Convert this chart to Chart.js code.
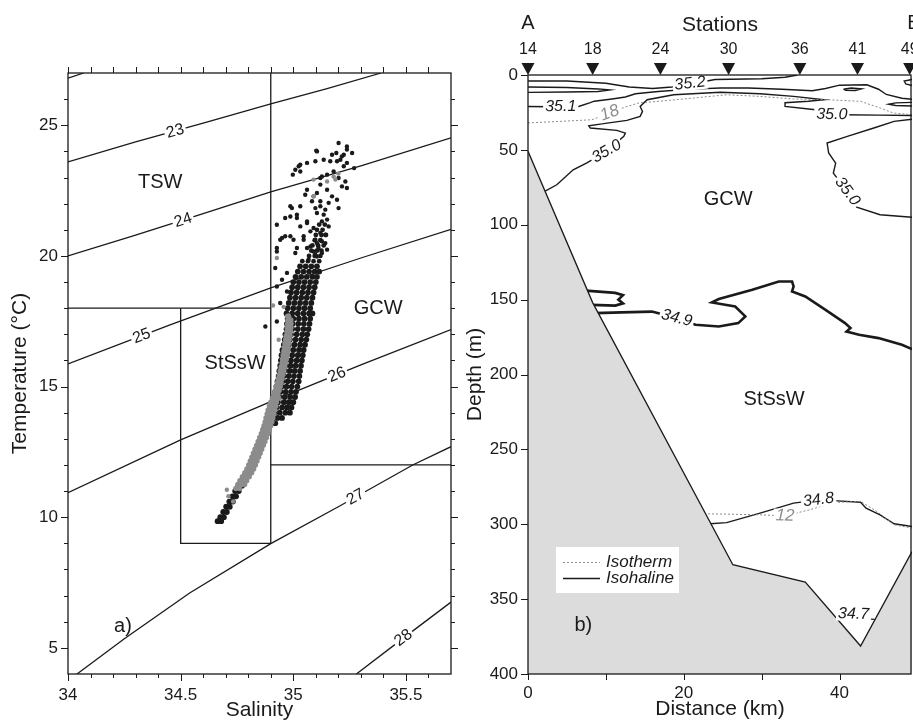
<!DOCTYPE html>
<html>
<head>
<meta charset="utf-8">
<script src="https://cdn.jsdelivr.net/npm/chart.js@4.4.1/dist/chart.umd.min.js"></script>
<style>
  body { margin: 0; background: #fff; width: 913px; height: 723px; overflow: hidden; position: relative; }
  #tsChart { position: absolute; left: 0; top: 0; }
  #secChart { position: absolute; left: 460px; top: 0; }
</style>
</head>
<body>
<canvas id="tsChart" width="460" height="723"></canvas>
<canvas id="secChart" width="453" height="723"></canvas>
<script>
// ---------- a) T-S diagram ----------
const salTicks = [34.0, 34.1, 34.2, 34.3, 34.4, 34.5, 34.6, 34.7, 34.8, 34.9, 35.0, 35.1, 35.2, 35.3, 35.4, 35.5, 35.6];
const salLabels = [34, 34.5, 35, 35.5];
const tempTicks = [5, 6, 7, 8, 9, 10, 11, 12, 13, 14, 15, 16, 17, 18, 19, 20, 21, 22, 23, 24, 25, 26];
const tempLabels = [5, 10, 15, 20, 25];

// sigma-t isopycnals [salinity, temperature]
const sig22 = [[34.0, 26.8], [34.07, 27.0]];
const sig23 = [[34.0, 23.6], [34.3, 24.36], [34.6, 25.08], [34.9, 25.82], [35.15, 26.4], [35.39, 27.0]];
const sig24 = [[34.0, 20.0], [34.3, 20.8], [34.6, 21.62], [34.9, 22.45], [35.3, 23.45], [35.7, 24.52]];
const sig25 = [[34.0, 15.87], [34.45, 17.35], [34.9, 18.78], [35.3, 19.92], [35.7, 21.02]];
const sig26 = [[34.0, 10.94], [34.5, 12.96], [34.9, 14.42], [35.3, 15.83], [35.7, 17.18]];
const sig27 = [[34.04, 4.0], [34.25, 5.35], [34.54, 7.1], [34.9, 8.99], [35.2, 10.4], [35.53, 12.0], [35.7, 12.7]];
const sig28 = [[35.28, 4.0], [35.5, 5.45], [35.7, 6.75]];

const sigTagText = ['23', '24', '25', '26', '27', '28'];
const sigTagAt = [[34.476, 24.77], [34.511, 21.36], [34.327, 16.93], [35.194, 15.45], [35.276, 10.77], [35.489, 5.38]];
const sigTagLine = [sig23, sig24, sig25, sig26, sig27, sig28];

// water mass limits
const edgeVertical = [[34.9, 27], [34.9, 9]];
const edgeTSW = [[34.0, 18], [34.9, 18]];
const edgeStSsW = [[34.5, 18], [34.5, 9], [34.9, 9]];
const edgeGCW = [[34.9, 12], [35.7, 12]];

const massNames = ['TSW', 'GCW', 'StSsW'];
const massAt = [[34.409, 22.8], [35.377, 17.99], [34.742, 15.87]];

// CTD samples, black: scattered upper part
const blackCloud = [
  [35.201, 24.32], [35.238, 24.19], [35.102, 24.03], [35.191, 23.94], [35.224, 23.87], [35.261, 23.94],
  [35.135, 23.68], [35.164, 23.62], [35.209, 23.68], [35.238, 23.56], [35.061, 23.56], [35.098, 23.62],
  [35.024, 23.43], [35.009, 23.30], [34.998, 23.11], [35.031, 23.23], [35.270, 23.36], [35.179, 23.23],
  [35.150, 23.11], [35.201, 22.98], [35.231, 22.85], [35.120, 22.98], [35.216, 22.66], [35.238, 22.60],
  [35.120, 22.73], [35.150, 22.53], [35.061, 22.53], [35.105, 22.41], [35.172, 22.28], [35.194, 22.15],
  [35.201, 21.83], [35.157, 22.03], [35.083, 22.09], [35.031, 21.90], [34.994, 21.83], [35.016, 21.58],
  [34.987, 21.51], [34.964, 21.45], [35.120, 21.90], [35.105, 21.64], [35.135, 21.58], [35.150, 21.39],
  [35.157, 21.13], [34.927, 21.19], [35.061, 21.26], [35.031, 21.13], [35.090, 21.07], [35.120, 20.88],
  [35.142, 20.81], [34.964, 20.75], [34.942, 20.62], [35.001, 20.62], [35.046, 20.75], [35.098, 20.62],
  [35.127, 20.56], [35.076, 20.36], [35.112, 20.30], [34.927, 20.17], [35.009, 20.11], [35.098, 20.05],
  [35.068, 19.86], [34.920, 19.54], [34.972, 19.35], [34.950, 19.09], [34.927, 18.83], [34.972, 18.64],
  [34.942, 18.20], [34.876, 17.30], [34.927, 17.49],
  [35.105, 24.00], [35.031, 23.49], [35.172, 23.87], [35.216, 23.81], [35.238, 24.07], [35.194, 23.62],
  [35.224, 23.43], [35.127, 23.04], [35.090, 22.28], [35.053, 22.34], [35.120, 22.09], [35.142, 21.77],
  [35.098, 21.83], [34.987, 21.90], [35.016, 21.45], [35.061, 21.32], [35.127, 21.32], [35.076, 20.94],
  [34.950, 20.69], [34.987, 20.75], [35.046, 20.62], [35.105, 20.49], [35.142, 20.49], [34.927, 20.30],
  [35.016, 20.30], [35.061, 20.30], [35.090, 20.17], [35.127, 20.11], [35.150, 20.24], [35.105, 19.98]
];
// black: denser column above the band, rows of [temperature, salinities]
const blackCore = [
  [21.2, [35.115, 35.140]],
  [21.0, [35.105, 35.130]],
  [20.8, [35.100, 35.125, 35.145]],
  [20.6, [35.095, 35.120]],
  [20.4, [35.085, 35.110, 35.135]],
  [20.2, [35.080, 35.105, 35.125]],
  [20.0, [35.070, 35.095, 35.120]],
  [19.8, [35.040, 35.065, 35.090, 35.115]]
];
// black: dense band
const blackBand = [
  [19.6, [35.030, 35.055, 35.080, 35.105]],
  [19.4, [35.020, 35.045, 35.070, 35.095, 35.115]],
  [19.2, [35.010, 35.035, 35.060, 35.085, 35.105]],
  [19.0, [35.000, 35.025, 35.050, 35.075, 35.100]],
  [18.8, [34.995, 35.020, 35.045, 35.070, 35.095]],
  [18.6, [34.990, 35.015, 35.040, 35.065, 35.090]],
  [18.4, [34.985, 35.010, 35.035, 35.060, 35.085]],
  [18.2, [34.980, 35.005, 35.030, 35.055, 35.080]],
  [18.0, [34.975, 35.000, 35.025, 35.050, 35.075]],
  [17.8, [34.970, 34.995, 35.020, 35.045, 35.070, 35.085]],
  [17.6, [34.975, 35.000, 35.025, 35.050, 35.075]],
  [17.4, [34.972, 34.997, 35.022, 35.047, 35.072]],
  [17.2, [34.970, 34.995, 35.020, 35.045, 35.068]],
  [17.0, [34.965, 34.990, 35.015, 35.040, 35.062]],
  [16.8, [34.962, 34.985, 35.010, 35.035, 35.058]],
  [16.6, [34.958, 34.980, 35.005, 35.030, 35.052]],
  [16.4, [34.952, 34.975, 35.000, 35.025, 35.046]],
  [16.2, [34.948, 34.970, 34.995, 35.020, 35.042]],
  [16.0, [34.945, 34.968, 34.990, 35.015, 35.038]],
  [15.8, [34.942, 34.965, 34.988, 35.010, 35.034]],
  [15.6, [34.938, 34.960, 34.984, 35.006, 35.030]],
  [15.4, [34.935, 34.957, 34.980, 35.003, 35.027]],
  [15.2, [34.930, 34.952, 34.975, 34.998, 35.024]],
  [15.0, [34.925, 34.948, 34.970, 34.993, 35.018]],
  [14.8, [34.920, 34.943, 34.966, 34.990, 35.012]],
  [14.6, [34.915, 34.938, 34.962, 34.986, 35.008]],
  [14.4, [34.910, 34.932, 34.958, 34.980, 35.000]],
  [14.2, [34.905, 34.925, 34.950, 34.972, 34.992]],
  [14.0, [34.898, 34.918, 34.940, 34.965, 34.985]],
  [13.8, [34.892, 34.910, 34.930, 34.950]],
  [13.6, [34.885, 34.902, 34.920]],
  [13.4, [34.871, 34.887]],
  [13.2, [34.864, 34.880]],
  [13.0, [34.856, 34.872]],
  [12.8, [34.847, 34.863]],
  [12.6, [34.837, 34.853]],
  [12.4, [34.828, 34.844]],
  [12.2, [34.819, 34.835]],
  [12.0, [34.809, 34.825]],
  [11.8, [34.798, 34.814]],
  [11.6, [34.785, 34.801]],
  [11.4, [34.770, 34.786]],
  [11.2, [34.756, 34.772]],
  [11.0, [34.742, 34.758]],
  [10.8, [34.730, 34.746]],
  [10.6, [34.716, 34.732]],
  [10.4, [34.702, 34.718]],
  [10.2, [34.689, 34.705]],
  [10.0, [34.676, 34.692]],
  [9.85, [34.664, 34.680]]
];
// CTD samples, grey
const grayCloud = [
  [35.179, 23.04], [35.187, 22.92], [35.150, 22.85], [35.090, 22.92], [35.090, 22.28], [34.927, 19.92],
  [34.910, 18.10], [34.935, 16.79], [34.972, 17.69], [34.957, 18.05], [35.200, 23.15],
  [34.705, 11.05], [34.712, 10.80], [34.733, 10.60]
];
const grayBand = [
  [17.7, [34.978]],
  [17.55, [34.976, 34.989]],
  [17.4, [34.975, 34.990]],
  [17.25, [34.973, 34.989]],
  [17.1, [34.972, 34.988]],
  [16.95, [34.969, 34.985]],
  [16.8, [34.966, 34.982]],
  [16.65, [34.963, 34.980]],
  [16.5, [34.960, 34.977]],
  [16.35, [34.958, 34.975]],
  [16.2, [34.955, 34.972]],
  [16.05, [34.952, 34.969]],
  [15.9, [34.950, 34.966]],
  [15.75, [34.946, 34.962]],
  [15.6, [34.942, 34.958]],
  [15.45, [34.938, 34.954]],
  [15.3, [34.933, 34.950]],
  [15.15, [34.929, 34.946]],
  [15.0, [34.925, 34.942]],
  [14.85, [34.920, 34.937]],
  [14.7, [34.915, 34.932]],
  [14.55, [34.907, 34.922, 34.935]],
  [14.4, [34.900, 34.912, 34.925]],
  [14.25, [34.894, 34.908, 34.922]],
  [14.1, [34.888, 34.903, 34.918]],
  [13.95, [34.884, 34.899, 34.914]],
  [13.8, [34.879, 34.894, 34.909]],
  [13.65, [34.875, 34.890, 34.905]],
  [13.5, [34.870, 34.885, 34.900]],
  [13.35, [34.864, 34.879, 34.894]],
  [13.2, [34.858, 34.873, 34.888]],
  [13.05, [34.851, 34.866, 34.881]],
  [12.9, [34.844, 34.859, 34.874]],
  [12.75, [34.837, 34.852, 34.867]],
  [12.6, [34.830, 34.845, 34.860]],
  [12.45, [34.823, 34.838, 34.853]],
  [12.3, [34.816, 34.831, 34.846]],
  [12.15, [34.809, 34.824, 34.839]],
  [12.0, [34.802, 34.817, 34.832]],
  [11.85, [34.794, 34.809, 34.824]],
  [11.7, [34.785, 34.800, 34.815]],
  [11.55, [34.774, 34.789, 34.804]],
  [11.4, [34.763, 34.778, 34.793]],
  [11.25, [34.754, 34.770, 34.784]],
  [11.1, [34.745, 34.762]]
];

// ---------- b) section ----------
const distTicks = [0, 10, 20, 30, 40];
const distLabels = [0, 20, 40];
const depthTicks = [0, 50, 100, 150, 200, 250, 300, 350, 400];
const stationIds = ['14', '18', '24', '30', '36', '41', '49'];
const stationKm = [0, 8.3, 17.0, 25.75, 34.9, 42.3, 49.0];

// [distance km, depth m]
const bottom = [[0, 51], [8.3, 152], [26.3, 327], [35.6, 338.6], [42.7, 381.3], [49.3, 318.3]];
const sal352 = [[0, 4], [5, 4], [10, 5.5], [13, 8], [16, 9], [18.5, 8], [19.5, 6.5], [22, 5], [24, 3], [30, 2.5], [33, 1.5], [34.6, 0]];
const sal352lens = [[0, 8], [5, 8.3], [9, 9.3], [10.5, 10], [9, 11], [5, 11.4], [0, 11.6]];
const sal351 = [[0, 21], [3, 21.2], [6.5, 21], [8, 18.5], [8.5, 17.5], [10.8, 16], [12.5, 14.7], [13.8, 12.5], [16.7, 11], [21, 9.4], [24.7, 8.7], [28.3, 8.7], [32.6, 9.5], [36.5, 10.5], [38.2, 9], [40, 6.8], [43.5, 6.5], [45, 9.5], [46, 13], [48, 15.5], [49.3, 16.2]];
const sal351lens = [[40.5, 9.5], [41.5, 8.7], [42.8, 9.2], [42, 10.3], [40.8, 10.2], [40.5, 9.5]];
const sal351edge = [[49.3, 18.3], [47.2, 18.6], [46.3, 19.5], [47.2, 20.4], [49.3, 20.7]];
const sal352edge = [[49.3, 3], [48.3, 4], [48.5, 6], [49.3, 7]];
const sal350a = [[2.2, 77.5], [3.7, 73.3], [5.8, 63.3], [7.5, 58.8], [10.1, 51], [12.3, 41], [12.5, 38.8], [11.4, 37], [8, 35.4], [7.8, 33.9], [9.7, 32.5], [12.7, 30.3], [14.4, 27.6], [14.7, 24.3], [14.4, 21], [15.3, 16.5], [18.7, 13.2], [24.7, 11.5], [29.8, 12.5], [34.1, 14.3], [38, 16.5], [36, 17.5], [33, 18.5], [33, 21], [36.9, 23.2], [37.8, 26.3], [40.3, 26.5], [45, 26.8], [49.3, 27]];
const sal350b = [[49.3, 29.5], [47, 31], [44.4, 35.4], [41, 41], [38.4, 45.4], [38.6, 52], [39.5, 58.8], [39.2, 65.5], [41, 77.8], [42.2, 88.2], [45.2, 93.3], [49.3, 95]];
const sal349 = [[8.6, 159], [12, 158.5], [15.9, 158], [19.1, 162.3], [21.5, 166.8], [24.5, 167.9], [27, 165.7], [27.9, 161.2], [26.6, 154.6], [23.6, 151.9], [24.5, 149.6], [28.8, 143.4], [32.2, 137.9], [33.9, 137.9], [34.1, 141.2], [33.9, 144.5], [35.6, 147.9], [38.2, 156.8], [40.7, 165.7], [41.4, 169], [40.9, 171.3], [42.5, 173.5], [45, 175.7], [48, 180.2], [49.3, 183]];
const sal349lobe = [[7.4, 144], [11.2, 145.5], [12.2, 147], [11.6, 150], [12.2, 152.5], [11.2, 154], [8.2, 153.5]];
const sal348 = [[23.4, 299.7], [25.5, 298.9], [29.8, 292.6], [34.1, 285.9], [37.3, 283.7], [39.7, 284.4], [42.7, 285.3], [43.4, 289.3], [45.2, 293.7], [47, 299.7], [49.3, 301.5]];
const sal347 = [[39.2, 362], [41.8, 362.5], [44.5, 363.5]];
const temp18 = [[0, 32], [4, 31], [8.2, 29.9], [10.5, 25.4], [12.5, 21.4], [14.2, 18.7], [16.7, 17.6], [21.2, 15.4], [25.5, 13.2], [29.8, 14.3], [34.1, 16], [38.4, 16.5], [42.7, 17.6], [45.2, 22], [46.9, 25.4], [49.3, 26.5]];
const temp12 = [[22.6, 293], [25, 293.2], [29.8, 293.7], [33, 294.4], [36.2, 290.3], [39.2, 285.5], [42.7, 284.8], [44.8, 291.5], [47, 300.4], [49.3, 302.6]];

const salTagText = ['35.2', '35.1', '35.0', '35.0', '35.0', '34.9', '34.8', '34.7'];
const salTagAt = [[20.8, 5.7], [4.2, 21.1], [10.1, 51], [39.0, 26.4], [41.0, 77.8], [19.1, 162.3], [37.3, 283.7], [41.8, 360]];
const salTagLine = [sal352, sal351, sal350a, sal350a, sal350b, sal349, sal348, sal347];
const tempTagText = ['18', '12'];
const tempTagAt = [[10.5, 25.4], [33.0, 294.4]];
const tempTagLine = [temp18, temp12];

const areaNames = ['GCW', 'StSsW'];
const areaAt = [[25.7, 83.3], [31.6, 216.9]];

// ---------- drawing ----------
const ink = '#1a1a1a';
const grey = '#8c8c8c';
const face = "'Liberation Sans', Arial, sans-serif";
Chart.defaults.font.family = face;
Chart.defaults.color = ink;
Chart.defaults.animation = false;

const pts = arr => arr.map(p => ({ x: p[0], y: p[1] }));
const rows = r => r.flatMap(([t, ss]) => ss.map(s => [s, t]));

function curve(arr, extra) {
  return Object.assign({
    type: 'line', data: pts(arr), borderColor: ink, borderWidth: 1.3,
    pointRadius: 0, fill: false, tension: 0, order: 3
  }, extra || {});
}

// angle of the polyline segment nearest to a label
function angleNear(line, xv, yv, sx, sy) {
  const px = sx.getPixelForValue(xv), py = sy.getPixelForValue(yv);
  let best = Infinity, ang = 0;
  for (let i = 0; i < line.length - 1; i++) {
    const x1 = sx.getPixelForValue(line[i][0]), y1 = sy.getPixelForValue(line[i][1]);
    const x2 = sx.getPixelForValue(line[i + 1][0]), y2 = sy.getPixelForValue(line[i + 1][1]);
    const dx = x2 - x1, dy = y2 - y1;
    let t = ((px - x1) * dx + (py - y1) * dy) / (dx * dx + dy * dy || 1);
    t = Math.max(0, Math.min(1, t));
    const d = Math.hypot(px - (x1 + t * dx), py - (y1 + t * dy));
    if (d < best) { best = d; ang = Math.atan2(dy, dx); }
  }
  if (ang > Math.PI / 2) ang -= Math.PI;
  if (ang < -Math.PI / 2) ang += Math.PI;
  return ang;
}

function tag(ctx, text, px, py, ang, font, color) {
  ctx.save();
  ctx.translate(px, py);
  ctx.rotate(ang);
  ctx.font = font;
  const w = ctx.measureText(text).width;
  ctx.fillStyle = '#fff';
  ctx.fillRect(-w / 2 - 2, -7, w + 4, 14);
  ctx.fillStyle = color;
  ctx.textAlign = 'center';
  ctx.textBaseline = 'middle';
  ctx.fillText(text, 0, 0);
  ctx.restore();
}

function plainText(ctx, text, px, py, font) {
  ctx.save();
  ctx.font = font;
  ctx.fillStyle = ink;
  ctx.textAlign = 'center';
  ctx.textBaseline = 'middle';
  ctx.fillText(text, px, py);
  ctx.restore();
}

const tsDecor = {
  id: 'tsDecor',
  afterDatasetsDraw(chart) {
    const { ctx, chartArea: a, scales: { x, y } } = chart;
    sigTagText.forEach((t, i) => {
      const [s, tv] = sigTagAt[i];
      tag(ctx, t, x.getPixelForValue(s), y.getPixelForValue(tv),
        angleNear(sigTagLine[i], s, tv, x, y), '16px ' + face, ink);
    });
    massNames.forEach((n, i) => {
      plainText(ctx, n, x.getPixelForValue(massAt[i][0]), y.getPixelForValue(massAt[i][1]), '20px ' + face);
    });
    plainText(ctx, 'a)', x.getPixelForValue(34.244), y.getPixelForValue(5.8), '20px ' + face);

    ctx.save();
    ctx.strokeStyle = ink;
    ctx.lineWidth = 1.3;
    ctx.strokeRect(a.left, a.top, a.right - a.left, a.bottom - a.top);
    ctx.beginPath();
    salTicks.forEach(v => {
      const px = Math.round(x.getPixelForValue(v)) + 0.5;
      const len = salLabels.includes(v) ? 7 : 4;
      ctx.moveTo(px, a.bottom); ctx.lineTo(px, a.bottom + len);
      ctx.moveTo(px, a.top); ctx.lineTo(px, a.top - 6);
    });
    tempTicks.forEach(v => {
      const py = Math.round(y.getPixelForValue(v)) + 0.5;
      const len = tempLabels.includes(v) ? 7 : 4;
      ctx.moveTo(a.left, py); ctx.lineTo(a.left - len, py);
      ctx.moveTo(a.right, py); ctx.lineTo(a.right + len, py);
    });
    ctx.lineWidth = 1;
    ctx.stroke();
    ctx.restore();
  }
};

new Chart(document.getElementById('tsChart'), {
  type: 'scatter',
  data: {
    datasets: [
      ...[sig22, sig23, sig24, sig25, sig26, sig27, sig28].map(l => curve(l)),
      ...[edgeVertical, edgeTSW, edgeStSsW, edgeGCW].map(l => curve(l)),
      { data: pts(blackCloud), pointRadius: 2.2, backgroundColor: ink, borderWidth: 0, order: 2 },
      { data: pts(rows(blackCore)), pointRadius: 2.4, backgroundColor: ink, borderWidth: 0, order: 2 },
      { data: pts(rows(blackBand)), pointRadius: 2.9, backgroundColor: ink, borderWidth: 0, order: 2 },
      { data: pts(grayCloud), pointRadius: 2.2, backgroundColor: grey, borderWidth: 0, order: 1 },
      { data: pts(rows(grayBand)), pointRadius: 2.7, backgroundColor: grey, borderWidth: 0, order: 1 }
    ]
  },
  options: {
    responsive: false,
    layout: { padding: { top: 73, right: 9, left: 0, bottom: 0 } },
    plugins: { legend: { display: false }, tooltip: { enabled: false } },
    scales: {
      x: {
        type: 'linear', min: 34, max: 35.7,
        afterBuildTicks: s => { s.ticks = salLabels.map(v => ({ value: v })); },
        afterFit: s => { s.height = 49; },
        grid: { display: false, drawTicks: false }, border: { display: false },
        ticks: { padding: 11, font: { size: 17 }, maxRotation: 0, autoSkip: false, callback: v => String(v) },
        title: { display: true, text: 'Salinity', font: { size: 21 }, padding: 0 }
      },
      y: {
        type: 'linear', min: 4, max: 27,
        afterBuildTicks: s => { s.ticks = tempLabels.map(v => ({ value: v })); },
        afterFit: s => { s.width = 68; },
        grid: { display: false, drawTicks: false }, border: { display: false },
        ticks: { padding: 10, font: { size: 17 }, autoSkip: false, callback: v => String(v) },
        title: { display: true, text: 'Temperature (°C)', font: { size: 21 }, padding: { top: 8, bottom: 0 } }
      }
    }
  },
  plugins: [tsDecor]
});

const secDecor = {
  id: 'secDecor',
  afterDatasetsDraw(chart) {
    const { ctx, chartArea: a, scales: { x, y } } = chart;
    salTagText.forEach((t, i) => {
      const [d, z] = salTagAt[i];
      tag(ctx, t, x.getPixelForValue(d), y.getPixelForValue(z),
        angleNear(salTagLine[i], d, z, x, y), 'italic 16px ' + face, ink);
    });
    tempTagText.forEach((t, i) => {
      const [d, z] = tempTagAt[i];
      tag(ctx, t, x.getPixelForValue(d), y.getPixelForValue(z),
        angleNear(tempTagLine[i], d, z, x, y), 'italic 17px ' + face, grey);
    });
    areaNames.forEach((n, i) => {
      plainText(ctx, n, x.getPixelForValue(areaAt[i][0]), y.getPixelForValue(areaAt[i][1]), '20px ' + face);
    });
    plainText(ctx, 'b)', x.getPixelForValue(7.1), y.getPixelForValue(367.9), '20px ' + face);

    // legend
    ctx.save();
    const lx = a.left + 28, ly = a.top + 472;
    ctx.fillStyle = '#fff';
    ctx.fillRect(lx, ly, 123, 46);
    ctx.beginPath();
    ctx.strokeStyle = grey; ctx.lineWidth = 1; ctx.setLineDash([2, 2]);
    ctx.moveTo(lx + 7, ly + 15.5); ctx.lineTo(lx + 44, ly + 15.5);
    ctx.stroke();
    ctx.setLineDash([]);
    ctx.beginPath();
    ctx.strokeStyle = ink; ctx.lineWidth = 1.4;
    ctx.moveTo(lx + 7, ly + 31.5); ctx.lineTo(lx + 44, ly + 31.5);
    ctx.stroke();
    ctx.font = 'italic 17px ' + face;
    ctx.fillStyle = ink;
    ctx.textBaseline = 'middle';
    ctx.fillText('Isotherm', lx + 50, ly + 15);
    ctx.fillText('Isohaline', lx + 50, ly + 31);
    ctx.restore();

    // frame and ticks
    ctx.save();
    ctx.strokeStyle = ink;
    ctx.lineWidth = 1.3;
    ctx.strokeRect(a.left, a.top, a.right - a.left - 1, a.bottom - a.top);
    ctx.beginPath();
    ctx.lineWidth = 1;
    distTicks.forEach(v => {
      const px = Math.round(x.getPixelForValue(v)) + 0.5;
      ctx.moveTo(px, a.bottom); ctx.lineTo(px, a.bottom + 6);
    });
    depthTicks.forEach(v => {
      const py = Math.round(y.getPixelForValue(v)) + 0.5;
      ctx.moveTo(a.left, py); ctx.lineTo(a.left - 7, py);
    });
    ctx.stroke();

    // stations
    ctx.fillStyle = ink;
    stationKm.forEach(k => {
      const px = x.getPixelForValue(k);
      ctx.beginPath();
      ctx.moveTo(px - 6.5, a.top - 12);
      ctx.lineTo(px + 6.5, a.top - 12);
      ctx.lineTo(px, a.top);
      ctx.closePath();
      ctx.fill();
    });
    ctx.restore();
    stationIds.forEach((s, i) => plainText(ctx, s, x.getPixelForValue(stationKm[i]), a.top - 25, '16px ' + face));
    plainText(ctx, 'A', x.getPixelForValue(0), 23, '20px ' + face);
    plainText(ctx, 'B', a.right + 2, 23, '20px ' + face);
    plainText(ctx, 'Stations', (a.left + a.right) / 2, 25, '21px ' + face);
  }
};

new Chart(document.getElementById('secChart'), {
  type: 'scatter',
  data: {
    datasets: [
      curve(bottom, { fill: { value: 400 }, backgroundColor: '#dcdcdc', borderWidth: 1.3, order: 0 }),
      ...[sal352, sal352lens, sal352edge, sal351, sal351lens, sal351edge, sal350a, sal350b, sal348, sal347]
        .map(l => curve(l, { borderWidth: 1.4, order: 2 })),
      ...[sal349, sal349lobe].map(l => curve(l, { borderWidth: 2.6, order: 2 })),
      ...[temp18, temp12].map(l => curve(l, { borderColor: grey, borderWidth: 1, borderDash: [2, 2], order: 1 }))
    ]
  },
  options: {
    responsive: false,
    layout: { padding: { top: 75, right: 1, left: 0, bottom: 0 } },
    plugins: { legend: { display: false }, tooltip: { enabled: false } },
    scales: {
      x: {
        type: 'linear', min: 0, max: 49.3,
        afterBuildTicks: s => { s.ticks = distLabels.map(v => ({ value: v })); },
        afterFit: s => { s.height = 49; },
        grid: { display: false, drawTicks: false }, border: { display: false },
        ticks: { padding: 9, font: { size: 17 }, maxRotation: 0, autoSkip: false, callback: v => String(v) },
        title: { display: true, text: 'Distance (km)', font: { size: 21 }, padding: { top: 0, bottom: 1 } }
      },
      y: {
        type: 'linear', min: 0, max: 400, reverse: true,
        afterBuildTicks: s => { s.ticks = depthTicks.map(v => ({ value: v })); },
        afterFit: s => { s.width = 68; },
        grid: { display: false, drawTicks: false }, border: { display: false },
        ticks: { padding: 10, font: { size: 17 }, autoSkip: false, callback: v => String(v) },
        title: { display: true, text: 'Depth (m)', font: { size: 21 }, padding: { top: 3, bottom: 0 } }
      }
    }
  },
  plugins: [secDecor]
});
</script>
</body>
</html>
